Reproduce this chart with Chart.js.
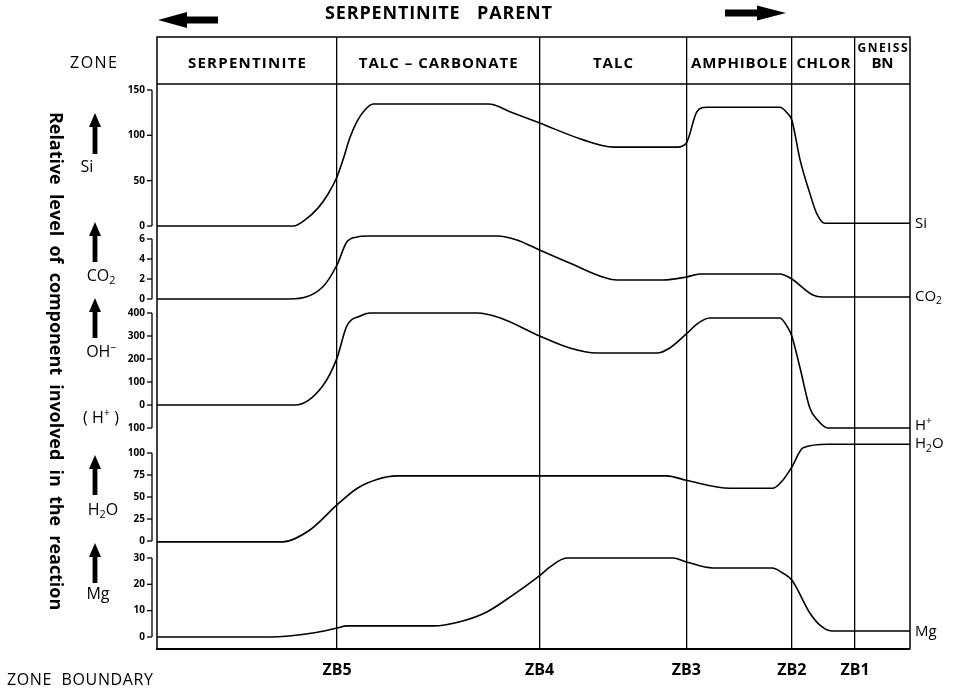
<!DOCTYPE html>
<html><head><meta charset="utf-8">
<script src="https://cdn.jsdelivr.net/npm/chart.js@4/dist/chart.umd.min.js"></script>
<style>html,body{margin:0;padding:0;background:#fff}canvas{display:block}</style>
</head><body>
<canvas id="c" width="957" height="691"></canvas>
<script>
// ---------------- DATA ----------------
const zoneNames = ['SERPENTINITE', 'TALC – CARBONATE', 'TALC', 'AMPHIBOLE', 'CHLOR', 'GNEISS\nBN'];
const zbLabels = ['ZB5', 'ZB4', 'ZB3', 'ZB2', 'ZB1'];
const zbPos = [23.9, 50.8, 70.3, 84.3, 92.7];

const siX = [0, 18.1, 19.7, 21.4, 22.7, 23.9, 24.7, 25.6, 26.6, 27.6, 28.7, 44.0, 47.3, 50.8, 56.6, 60.6, 69.1, 70.3, 71.7, 73.0, 82.7, 83.7, 84.3, 85.4, 86.7, 87.6, 88.7, 100];
const siY = [0, 0, 7, 20, 35, 54, 73, 97, 116, 128, 134.5, 134.5, 124.6, 113.6, 95, 87, 87, 91.5, 126, 131, 131, 124.6, 117, 73, 36, 14, 3, 3];

const co2X = [0, 17.7, 22.0, 23.9, 25.2, 26.6, 28.0, 45.2, 47.8, 50.8, 54.8, 58.8, 61.1, 67.2, 70.3, 72.1, 82.7, 84.1, 87.1, 88.4, 100];
const co2Y = [0, 0, 1.2, 3.4, 5.7, 6.2, 6.3, 6.3, 5.9, 4.9, 3.6, 2.3, 1.9, 1.9, 2.2, 2.5, 2.5, 2.1, 0.4, 0.2, 0.2];

const ohX = [0, 18.3, 22.0, 23.9, 25.2, 27.0, 28.3, 42.5, 45.6, 50.8, 54.8, 58.4, 66.4, 68.1, 70.3, 71.7, 73.4, 82.7, 83.8, 84.3, 85.4, 86.7, 87.6, 89.1, 100];
const ohY = [0, 0, 83, 204, 343, 387, 400, 400, 378, 300, 248, 226, 226, 248, 309, 352, 378, 378, 335, 300, 161, -13, -61, -100, -100];

const h2oX = [0, 16.7, 20.3, 23.9, 26.6, 29.2, 31.9, 67.7, 70.3, 76.1, 81.8, 83.1, 84.3, 85.8, 89.1, 100];
const h2oY = [-1, -1, 12.5, 41, 60, 70, 74, 74, 69, 60, 60, 69, 84, 106, 110, 110];

const mgX = [0, 15.0, 20.7, 23.9, 25.2, 36.7, 40.6, 43.8, 47.3, 50.9, 52.2, 54.4, 68.5, 70.3, 73.8, 81.7, 83.1, 84.3, 86.7, 88.0, 89.6, 100];
const mgY = [0, 0, 1.5, 3.4, 4.2, 4.2, 6.1, 9.5, 16, 23.5, 26.6, 30, 30, 28.5, 26.2, 26.2, 24.3, 21.6, 9.1, 4.6, 2.3, 2.3];

const siTicks = [0, 50, 100, 150];
const siTickLabels = ['0', '50', '100', '150'];
const co2Ticks = [0, 2, 4, 6];
const co2TickLabels = ['0', '2', '4', '6'];
const ohTicks = [-100, 0, 100, 200, 300, 400];
const ohTickLabels = ['100', '0', '100', '200', '300', '400'];
const h2oTicks = [0, 25, 50, 75, 100];
const h2oTickLabels = ['0', '25', '50', '75', '100'];
const mgTicks = [0, 10, 20, 30];
const mgTickLabels = ['0', '10', '20', '30'];

// ---------------- HELPERS ----------------
const FAM = '"Open Sans", "DejaVu Sans", sans-serif';
const zip = (xs, ys) => xs.map((x, i) => ({x, y: ys[i]}));

function series(label, xs, ys, axis) {
  return {
    label, data: zip(xs, ys), yAxisID: axis, xAxisID: 'x',
    borderColor: '#000', borderWidth: 1.6, pointRadius: 0,
    cubicInterpolationMode: 'monotone', fill: false
  };
}

function yScale(ticks, labels, min, max, band, order) {
  return {
    type: 'linear', position: 'left', stack: 'panels', stackWeight: band, weight: order,
    min, max,
    afterBuildTicks: s => { s.ticks = ticks.map(v => ({value: v})); },
    afterFit: s => { s.width = 157; },
    grid: {display: false, drawTicks: false},
    border: {display: false},
    ticks: {
      padding: 12, color: '#000', autoSkip: false,
      font: {family: FAM, size: 10, weight: 'bold'},
      callback: (v, i) => labels[i]
    }
  };
}

function fitText(ctx, text, x0, cy, w, font) {
  ctx.font = font;
  ctx.letterSpacing = '0px';
  const m = ctx.measureText(text).width;
  const n = [...text].length;
  const ls = n > 1 ? (w - m) / (n - 1) : 0;
  ctx.letterSpacing = ls.toFixed(2) + 'px';
  ctx.textAlign = 'left';
  ctx.textBaseline = 'middle';
  ctx.fillText(text, x0, cy);
  ctx.letterSpacing = '0px';
}

function rich(ctx, parts, x, y, size, align) {
  let w = 0;
  const fonts = parts.map(([t, m]) => `${m ? size * 0.68 : size}px ${FAM}`);
  const ws = parts.map(([t, m], i) => { ctx.font = fonts[i]; const mw = ctx.measureText(t).width; w += mw; return mw; });
  let cx = align === 'left' ? x : x - w / 2;
  ctx.textAlign = 'left'; ctx.textBaseline = 'middle';
  parts.forEach(([t, m], i) => {
    ctx.font = fonts[i];
    ctx.fillText(t, cx, y + (m === 1 ? size * 0.3 : m === 2 ? -size * 0.32 : 0));
    cx += ws[i];
  });
}

function upArrow(ctx, x, tip, bottom) {
  ctx.beginPath();
  ctx.moveTo(x, tip);
  ctx.lineTo(x + 6, tip + 14);
  ctx.lineTo(x + 2.4, tip + 14);
  ctx.lineTo(x + 2.4, bottom);
  ctx.lineTo(x - 2.4, bottom);
  ctx.lineTo(x - 2.4, tip + 14);
  ctx.lineTo(x - 6, tip + 14);
  ctx.closePath();
  ctx.fill();
}

function hArrow(ctx, tipX, tailX, y, headLen, headHalf, shaftHalf) {
  const d = Math.sign(tailX - tipX);
  const hb = tipX + d * headLen;
  ctx.beginPath();
  ctx.moveTo(tipX, y);
  ctx.lineTo(hb, y - headHalf);
  ctx.lineTo(hb, y - shaftHalf);
  ctx.lineTo(tailX, y - shaftHalf);
  ctx.lineTo(tailX, y + shaftHalf);
  ctx.lineTo(hb, y + shaftHalf);
  ctx.lineTo(hb, y + headHalf);
  ctx.closePath();
  ctx.fill();
}

// ---------------- DECORATION PLUGIN ----------------
const panelAxes = [
  ['ySi', siTicks], ['yCO2', co2Ticks], ['yOH', ohTicks], ['yH2O', h2oTicks], ['yMg', mgTicks]
];
const zoneTextW = [118, 159, 40, 96, 54];

const deco = {
  id: 'deco',
  afterDraw(chart) {
    const ctx = chart.ctx, ca = chart.chartArea, xs = chart.scales.x;
    ctx.save();
    ctx.strokeStyle = '#000'; ctx.fillStyle = '#000';

    // frame + header line
    ctx.lineWidth = 1.5;
    ctx.beginPath();
    ctx.moveTo(ca.left, ca.bottom); ctx.lineTo(ca.left, ca.top);
    ctx.lineTo(ca.right, ca.top); ctx.lineTo(ca.right, ca.bottom);
    ctx.stroke();
    const hb = chart.scales.yHead.bottom;
    ctx.beginPath(); ctx.moveTo(ca.left, hb); ctx.lineTo(ca.right, hb); ctx.stroke();

    // panel axis spines and tick marks
    ctx.lineWidth = 1.3;
    panelAxes.forEach(([id, ticks]) => {
      const s = chart.scales[id];
      const sx = ca.left - 5;
      const yT = s.getPixelForValue(ticks[ticks.length - 1]);
      const yB = s.getPixelForValue(ticks[0]);
      ctx.beginPath(); ctx.moveTo(sx, yT); ctx.lineTo(sx, yB); ctx.stroke();
      ticks.forEach(v => {
        const py = s.getPixelForValue(v);
        ctx.beginPath(); ctx.moveTo(sx - 5, py); ctx.lineTo(sx, py); ctx.stroke();
      });
    });

    // zone names in header
    const bounds = [xs.min, ...zbPos, xs.max];
    const hy = (ca.top + hb) / 2;
    zoneNames.forEach((nm, i) => {
      const cx = (xs.getPixelForValue(bounds[i]) + xs.getPixelForValue(bounds[i + 1])) / 2;
      if (nm.includes('\n')) {
        const [a, b] = nm.split('\n');
        fitText(ctx, a, cx - 25, hy - 12, 50, `bold 12px ${FAM}`);
        fitText(ctx, b, cx - 11, hy + 3, 22, `bold 15px ${FAM}`);
      } else {
        const w = zoneTextW[i];
        fitText(ctx, nm, cx - w / 2, hy + 3, w, `bold 15px ${FAM}`);
      }
    });

    // top title and arrows
    fitText(ctx, 'SERPENTINITE   PARENT', 325, 14, 227, `bold 18px ${FAM}`);
    hArrow(ctx, ca.left + 1, 218, 20, 29, 8, 3.5);
    hArrow(ctx, 786, 725, 13, 29, 7.5, 3.5);

    // ZONE labels
    fitText(ctx, 'ZONE', 70, hy + 3, 47, `16px ${FAM}`);
    fitText(ctx, 'ZONE  BOUNDARY', 7, 680, 146, `16px ${FAM}`);

    // rotated axis title
    ctx.save();
    ctx.translate(55, 361);
    ctx.rotate(Math.PI / 2);
    fitText(ctx, 'Relative  level  of  component  involved  in  the  reaction', -249, 0, 498, `bold 18px ${FAM}`);
    ctx.restore();

    // left component labels with arrows
    upArrow(ctx, 95, 113, 154);
    rich(ctx, [['Si', 0]], 87, 167, 16, 'center');
    upArrow(ctx, 95, 222, 262);
    rich(ctx, [['CO', 0], ['2', 1]], 101, 276, 16, 'center');
    upArrow(ctx, 95, 298, 338);
    rich(ctx, [['OH', 0], ['–', 2]], 101, 352, 16, 'center');
    rich(ctx, [['( H', 0], ['+', 2], [' )', 0]], 101, 418, 16, 'center');
    upArrow(ctx, 95, 455, 495);
    rich(ctx, [['H', 0], ['2', 1], ['O', 0]], 103, 510, 16, 'center');
    upArrow(ctx, 95, 543, 583);
    rich(ctx, [['Mg', 0]], 98, 594, 16, 'center');

    // right end labels tied to last points
    const rx = ca.right + 5;
    const endLab = [
      ['ySi', siY, [['Si', 0]], 0],
      ['yCO2', co2Y, [['CO', 0], ['2', 1]], 0],
      ['yOH', ohY, [['H', 0], ['+', 2]], -2],
      ['yH2O', h2oY, [['H', 0], ['2', 1], ['O', 0]], 0],
      ['yMg', mgY, [['Mg', 0]], 1]
    ];
    endLab.forEach(([id, ys, parts, dy]) => {
      const py = chart.scales[id].getPixelForValue(ys[ys.length - 1]);
      rich(ctx, parts, rx, py + dy, 15, 'left');
    });
    ctx.restore();
  }
};

// ---------------- CHART ----------------
new Chart(document.getElementById('c'), {
  type: 'line',
  data: {
    datasets: [
      series('Si', siX, siY, 'ySi'),
      series('CO2', co2X, co2Y, 'yCO2'),
      series('OH-/H+', ohX, ohY, 'yOH'),
      series('H2O', h2oX, h2oY, 'yH2O'),
      series('Mg', mgX, mgY, 'yMg')
    ]
  },
  options: {
    responsive: false, animation: false, devicePixelRatio: 1,
    layout: {padding: {left: 0, top: 37, right: 47, bottom: 0}},
    plugins: {legend: {display: false}, tooltip: {enabled: false}},
    scales: {
      x: {
        type: 'linear', position: 'bottom', min: 0, max: 100,
        afterBuildTicks: s => { s.ticks = zbPos.map(v => ({value: v})); },
        afterFit: s => { s.height = 42; },
        grid: {display: true, drawOnChartArea: true, drawTicks: false, color: '#000', lineWidth: 1.3},
        border: {display: true, color: '#000', width: 2},
        ticks: {
          padding: 12, color: '#000', autoSkip: false, maxRotation: 0, minRotation: 0,
          font: {family: FAM, size: 16, weight: 'bold'},
          callback: (v, i) => zbLabels[i]
        }
      },
      yHead: {
        type: 'linear', position: 'left', stack: 'panels', stackWeight: 47, weight: 60,
        min: 0, max: 1,
        afterFit: s => { s.width = 157; },
        grid: {display: false, drawTicks: false},
        border: {display: false},
        ticks: {display: false}
      },
      ySi: yScale(siTicks, siTickLabels, -7.7, 156.6, 149, 50),
      yCO2: yScale(co2Ticks, co2TickLabels, -0.7, 6.6, 73, 40),
      yOH: yScale(ohTicks, ohTickLabels, -152, 430.4, 134, 30),
      yH2O: yScale(h2oTicks, h2oTickLabels, -9.1, 114.8, 109, 20),
      yMg: yScale(mgTicks, mgTickLabels, -4.56, 33.4, 100, 10)
    }
  },
  plugins: [deco]
});
</script>
</body></html>
